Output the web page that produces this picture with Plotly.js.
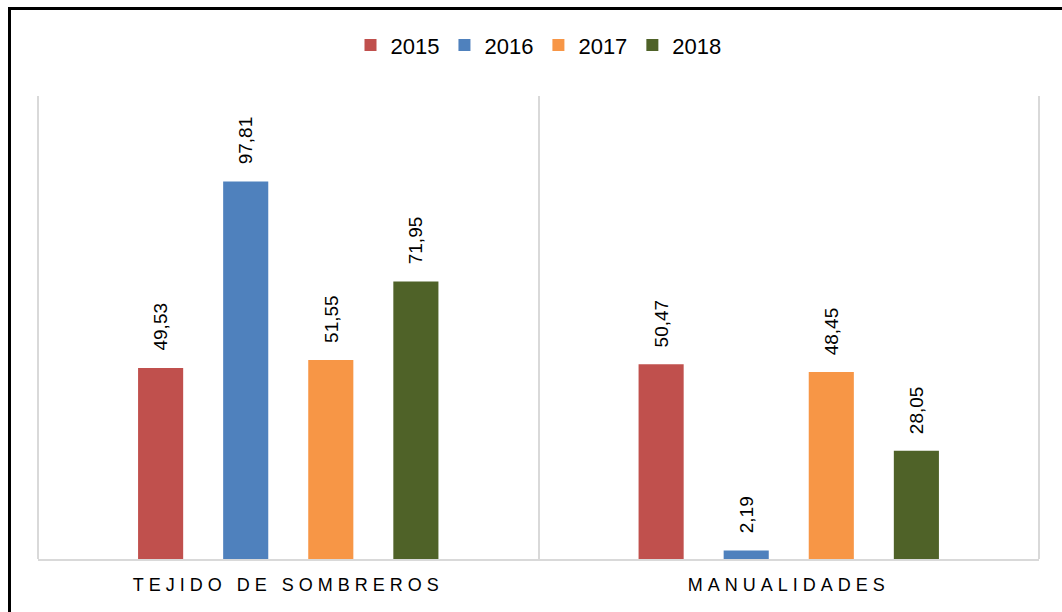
<!DOCTYPE html>
<html>
<head>
<meta charset="utf-8">
<script src="https://cdn.plot.ly/plotly-3.0.1.min.js"></script>
<style>
  html, body { margin: 0; padding: 0; background: #fff; }
  #wrap { position: relative; width: 1062px; height: 612px; overflow: hidden; }
  #chart { width: 1062px; height: 612px; }
  #frame { position: absolute; left: 8px; top: 7px; width: 1100px; height: 700px;
           border-left: 3px solid #000; border-top: 3px solid #000; pointer-events: none; }
</style>
</head>
<body>
<div id="wrap">
  <div id="chart"></div>
  <div id="frame"></div>
</div>
<script>
const categories = ['TEJIDO DE SOMBREROS', 'MANUALIDADES'];
const years = ['2015', '2016', '2017', '2018'];
const values2015 = [49.53, 50.47];
const values2016 = [97.81, 2.19];
const values2017 = [51.55, 48.45];
const values2018 = [71.95, 28.05];
const seriesValues = [values2015, values2016, values2017, values2018];
const seriesColors = ['#C0504D', '#4F81BD', '#F79646', '#4F6228'];

const FONT = 'Liberation Sans, Arial, sans-serif';
const bargap = 0.32;
const bargroupgap = 0.47;

const traces = seriesValues.map((vals, i) => ({
  type: 'bar',
  name: years[i],
  x: categories,
  y: vals,
  marker: { color: seriesColors[i] },
  hoverinfo: 'none'
}));

const annotations = [];
const slot = (1 - bargap) / seriesValues.length;
seriesValues.forEach((vals, i) => {
  vals.forEach((v, c) => {
    annotations.push({
      x: c + (i - (seriesValues.length - 1) / 2) * slot,
      y: v,
      xref: 'x', yref: 'y',
      text: v.toFixed(2).replace('.', ','),
      textangle: -90,
      showarrow: false,
      xanchor: 'center',
      yanchor: 'bottom',
      yshift: 15,
      font: { family: FONT, size: 19, color: '#000' }
    });
  });
});

const edgeLines = [0, 1].map(px => ({
  type: 'line', xref: 'paper', yref: 'paper',
  x0: px, x1: px, y0: 0, y1: 1,
  line: { color: '#D9D9D9', width: 2 },
  layer: 'below'
}));

const layout = {
  width: 1062, height: 612,
  paper_bgcolor: '#fff', plot_bgcolor: '#fff',
  margin: { l: 38, r: 23, t: 96, b: 53 },
  barmode: 'group',
  bargap: bargap,
  bargroupgap: bargroupgap,
  showlegend: true,
  legend: {
    orientation: 'h', x: 0.5, xanchor: 'center', y: 1.155, yanchor: 'top',
    font: { family: FONT, size: 22, color: '#000' },
    traceorder: 'normal'
  },
  xaxis: {
    type: 'category',
    range: [-0.5, 1.5],
    tickson: 'boundaries',
    showgrid: true, gridcolor: '#D9D9D9', gridwidth: 2,
    showline: true, linecolor: '#D9D9D9', linewidth: 2,
    ticks: '',
    ticklabelstandoff: 8,
    tickfont: { family: FONT, size: 18, color: '#000' },
    fixedrange: true
  },
  yaxis: {
    range: [0, 120],
    showgrid: false, zeroline: false, showline: false,
    showticklabels: false, ticks: '',
    fixedrange: true
  },
  shapes: edgeLines,
  annotations: annotations
};

Plotly.newPlot('chart', traces, layout, { displayModeBar: false, staticPlot: true }).then(gd => {
  gd.querySelectorAll('.xtick text').forEach(t => {
    t.style.letterSpacing = '5px';
  });
});
</script>
</body>
</html>
